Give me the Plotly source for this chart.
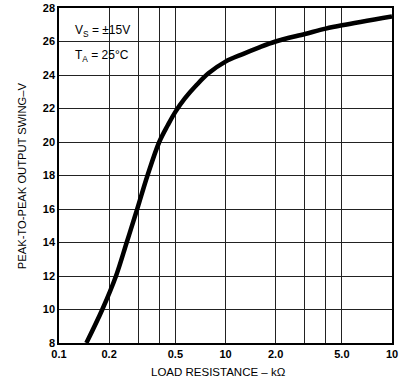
import plotly.graph_objects as go

# load resistance (kOhm) vs peak-to-peak output swing (V)
load_kohm = [0.146, 0.182, 0.22, 0.255, 0.295, 0.34, 0.40, 0.45, 0.50, 0.57,
             0.67, 0.79, 1.0, 1.27, 1.57, 2.0, 3.0, 4.0, 5.0, 10.0]
swing_v = [8, 10, 12, 14, 16, 18, 20, 21.0, 21.8, 22.6,
           23.4, 24.1, 24.8, 25.25, 25.62, 26.0, 26.45, 26.77, 26.97, 27.5]

x_major = [0.1, 0.2, 0.5, 1, 2, 5, 10]
x_labels = ["0.1", "0.2", "0.5", "10", "2.0", "5.0", "10"]
x_minor = [0.3, 0.4, 3, 4]
y_ticks = list(range(8, 29, 2))

font = "Liberation Sans, Arial, Helvetica, sans-serif"

fig = go.Figure()
fig.add_trace(go.Scatter(x=load_kohm, y=swing_v, mode="lines",
                         line=dict(color="black", width=4.5, shape="spline", smoothing=1.0),
                         showlegend=False, hoverinfo="skip"))

# blank area behind the condition text
fig.add_shape(type="rect", xref="paper", yref="paper", x0=0.003, x1=0.29, y0=0.82, y1=0.997,
              fillcolor="white", line=dict(width=0), layer="between")

fig.add_annotation(text="V<sub>S</sub> = ±15V", xref="paper", yref="paper", x=0.042, y=0.932,
                   xanchor="left", yanchor="middle", showarrow=False,
                   font=dict(family=font, size=12, color="black"))
fig.add_annotation(text="T<sub>A</sub> = 25°C", xref="paper", yref="paper", x=0.042, y=0.857,
                   xanchor="left", yanchor="middle", showarrow=False,
                   font=dict(family=font, size=12, color="black"))

# axis titles
fig.add_annotation(text="LOAD RESISTANCE – kΩ", xref="paper", yref="paper", x=0.48, y=-0.087,
                   xanchor="center", yanchor="middle", showarrow=False,
                   font=dict(family=font, size=11.5, color="black"))
fig.add_annotation(text="PEAK-TO-PEAK OUTPUT SWING–V", xref="paper", yref="paper", x=-0.112, y=0.5,
                   xanchor="center", yanchor="middle", showarrow=False, textangle=-90,
                   font=dict(family=font, size=11.2, color="black"))

fig.update_xaxes(type="log", range=[-1, 1], tickvals=x_major, ticktext=x_labels,
                 showgrid=True, gridcolor="#222", gridwidth=1, automargin=False,
                 minor=dict(tickvals=x_minor, showgrid=True, gridcolor="#222", gridwidth=1, ticks=""),
                 showline=True, mirror=True, linecolor="black", linewidth=1.5,
                 ticks="", ticklabeloverflow="allow",
                 tickfont=dict(family=font, size=11, color="black", weight="bold"))
fig.update_yaxes(range=[8, 28], tickvals=y_ticks,
                 showgrid=True, gridcolor="#222", gridwidth=1, automargin=False,
                 showline=True, mirror=True, linecolor="black", linewidth=1.5,
                 ticks="", tickfont=dict(family=font, size=11, color="black", weight="bold"))

fig.update_layout(width=404, height=387, margin=dict(l=59, r=12, t=8, b=44),
                  plot_bgcolor="white", paper_bgcolor="white")

# drop the page's default body margin so the figure sits at the window's corner
fig.write_html("out.html", config={"displayModeBar": False},
               post_script="document.body.style.margin='0';")
